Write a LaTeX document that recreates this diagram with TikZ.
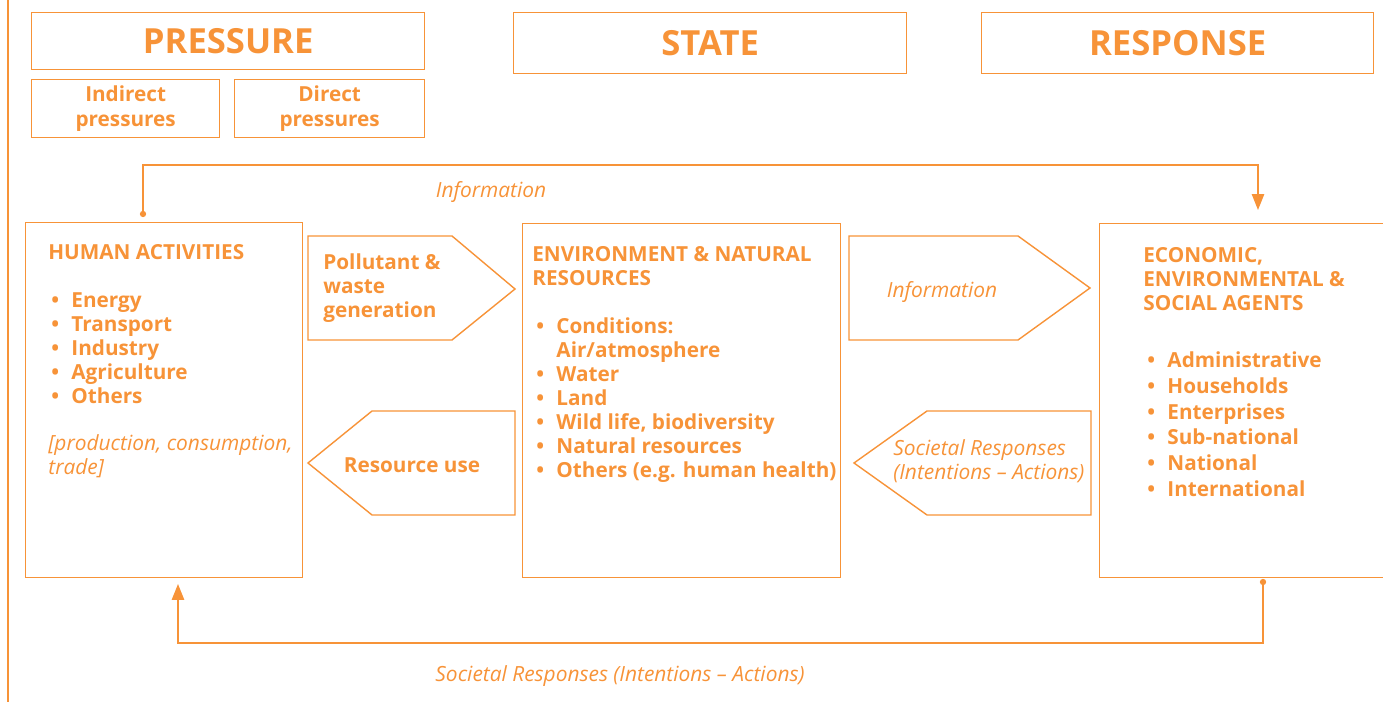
\documentclass[tikz,border=0pt]{standalone}
\usepackage{fontspec}
\setmainfont{Open Sans}
\usetikzlibrary{arrows.meta}

\definecolor{dpsir}{RGB}{247,147,56}

\tikzset{
	panel/.style={draw=dpsir, line width=0.8pt, inner sep=0pt, anchor=north west, text=dpsir},
	hdr/.style={panel, font=\fontsize{19.7}{23}\selectfont\bfseries},
	subhdr/.style={panel, align=center, font=\fontsize{11.8}{14.2}\selectfont\bfseries},
	bodytxt/.style={text=dpsir, inner sep=0pt, anchor=base west, font=\fontsize{11.8}{13.66}\selectfont\bfseries},
	ital/.style={text=dpsir, inner sep=0pt, font=\fontsize{11.9}{13.66}\selectfont\itshape},
	tabshape/.style={draw=dpsir, line width=0.8pt, line join=miter},
	flow/.style={draw=dpsir, line width=0.8pt, -{Triangle[width=7pt,length=9pt]}}
}

\newcommand{\blist}[1]{\begin{tabular}[t]{@{}l@{\hspace{7pt}}l@{}}#1\end{tabular}}
\newcommand{\lines}[1]{\begin{tabular}[t]{@{}l@{}}#1\end{tabular}}
\newcommand{\bl}{\textbullet}

\begin{document}
\begin{tikzpicture}[x=0.02cm, y=-0.02cm]
	\useasboundingbox (0,0) rectangle (1383,702);
	\clip (0,0) rectangle (1383,702);
	\draw[dpsir, line width=0.8pt] (8,0) -- (8,702);

	% headings
	\node[hdr, minimum width=7.86cm, minimum height=1.14cm] (pressure) at (31,12) {PRESSURE};
	\node[hdr, minimum width=7.86cm, minimum height=1.22cm] (state) at (513,12) {STATE};
	\node[hdr, minimum width=7.84cm, minimum height=1.22cm] (response) at (981,12) {RESPONSE};
	\node[subhdr, minimum width=3.76cm, minimum height=1.16cm] (indirect) at (31,79) {Indirect\\pressures};
	\node[subhdr, minimum width=3.8cm, minimum height=1.16cm] (direct) at (234,79) {Direct\\pressures};

	% the three main boxes
	\node[panel, minimum width=5.54cm, minimum height=7.1cm] (human) at (25,222) {};
	\node[panel, minimum width=6.36cm, minimum height=7.08cm] (env) at (522,223) {};
	\node[panel, minimum width=6.2cm, minimum height=7.08cm] (econ) at (1099,223) {};

	\node[bodytxt] (humanT) at (48,260) {HUMAN ACTIVITIES};
	\node[bodytxt] (humanL) at (51,308) {\blist{\bl & Energy\\ \bl & Transport\\ \bl & Industry\\ \bl & Agriculture\\ \bl & Others}};
	\node[ital, anchor=base west] (humanN) at (48,451) {\lines{[production, consumption,\\trade]}};

	\node[bodytxt] (envT) at (532,262) {\lines{ENVIRONMENT \& NATURAL\\RESOURCES}};
	\node[bodytxt] (envL) at (536,334) {\blist{\bl & Conditions:\\ & Air/atmosphere\\ \bl & Water\\ \bl & Land\\ \bl & Wild life, biodiversity\\ \bl & Natural resources\\ \bl & Others (e.g. human health)}};

	\node[bodytxt] (econT) at (1143,263) {\lines{ECONOMIC,\\ENVIRONMENTAL \&\\SOCIAL AGENTS}};
	\node[bodytxt, font=\fontsize{11.8}{14.6}\selectfont\bfseries] (econL) at (1147,368) {\blist{\bl & Administrative\\ \bl & Households\\ \bl & Enterprises\\ \bl & Sub-national\\ \bl & National\\ \bl & International}};

	% arrow shaped tabs between the boxes
	\draw[tabshape] (308,236) -- (452,236) -- (515,289) -- (452,340) -- (308,340) -- cycle;
	\node[bodytxt] (waste) at (323,270) {\lines{Pollutant \&\\waste\\generation}};
	\draw[tabshape] (515,411) -- (372,411) -- (308,463) -- (372,515) -- (515,515) -- cycle;
	\node[bodytxt, anchor=center] (resuse) at (412,465) {Resource use};
	\draw[tabshape] (849,236) -- (1018,236) -- (1090,288) -- (1018,340) -- (849,340) -- cycle;
	\node[ital] (infoTab) at (942,292) {Information};
	\draw[tabshape] (1091,411) -- (927,411) -- (854,463) -- (927,515) -- (1091,515) -- cycle;
	\node[ital, anchor=base west] (socTab) at (893,456) {\lines{Societal Responses\\(Intentions -- Actions)}};

	% feedback loops
	\coordinate (infoStart) at (143,214);
	\coordinate (infoEnd) at (1258,210);
	\fill[dpsir] (infoStart) circle (1.8pt);
	\draw[flow] (infoStart) -- ++(0,-49) -| (infoEnd);
	\node[ital] (infoTop) at (491,192) {Information};

	\coordinate (socStart) at (1263,582);
	\coordinate (socEnd) at (178,584);
	\fill[dpsir] (socStart) circle (1.8pt);
	\draw[flow] (socStart) -- ++(0,61) -| (socEnd);
	\node[ital] (socBottom) at (620,676) {Societal Responses (Intentions -- Actions)};
\end{tikzpicture}
\end{document}
